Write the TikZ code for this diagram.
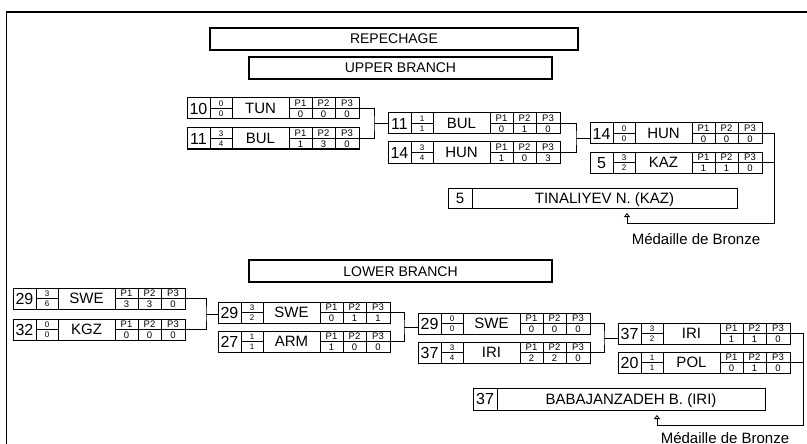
\documentclass[tikz,border=0pt]{standalone}
\usepackage{fontspec}
\setmainfont{Liberation Sans}
\usetikzlibrary{arrows.meta,calc}
\tikzset{
  rowbox/.style={draw, line width=1pt, minimum width=172pt, minimum height=21pt, inner sep=0pt, outer sep=0pt},
  namebox/.style={draw, line width=1pt, inner sep=0pt, outer sep=0pt},
  titlebox/.style={draw, line width=1.9pt, inner sep=0pt, outer sep=0pt},
  cell/.style={line width=0.8pt},
  conn/.style={line width=0.9pt},
  txtbig/.style={font=\fontsize{15}{15}\selectfont, inner sep=0pt, text height=10.7pt, text depth=0pt},
  txtnum/.style={font=\fontsize{16}{16}\selectfont, inner sep=0pt, text height=11.4pt, text depth=0pt},
  txttitle/.style={font=\fontsize{14}{14}\selectfont, inner sep=0pt, text height=10pt, text depth=0pt},
  txttiny/.style={font=\fontsize{8}{8}\selectfont, inner sep=0pt, text height=5.7pt, text depth=0pt},
  txtp/.style={font=\fontsize{9.5}{9.5}\selectfont, inner sep=0pt, text height=6.8pt, text depth=0pt},
  medal/.style={-{Triangle[open, length=4pt, width=6pt]}, line width=0.8pt},
}
% #1 id, #2 "x,y" top-left, #3 number, #4 upper score, #5 lower score, #6 country, #7-#9 P values
\newcommand\matchrow[9]{%
  \begin{scope}[shift={(#2)}]
    \node[rowbox, anchor=north west] (#1) at (0,0) {};
    \draw[cell] (23,0) -- (23,21) (45,0) -- (45,21) (102,0) -- (102,21)
      (125,0) -- (125,21) (148,0) -- (148,21)
      (23,10.5) -- (45,10.5) (102,10.5) -- (172,10.5);
    \node[txtnum] (#1-num) at (11.5,10.5) {#3};
    \node[txttiny] (#1-sa) at (34,5.2) {#4};
    \node[txttiny] (#1-sb) at (34,15.9) {#5};
    \node[txtbig] (#1-ctry) at (73.5,10.5) {#6};
    \node[txtp] (#1-l1) at (113.5,5.2) {P1};
    \node[txtp] (#1-l2) at (136.5,5.2) {P2};
    \node[txtp] (#1-l3) at (160,5.2) {P3};
    \node[txtp] (#1-v1) at (113.5,15.9) {#7};
    \node[txtp] (#1-v2) at (136.5,15.9) {#8};
    \node[txtp] (#1-v3) at (160,15.9) {#9};
  \end{scope}}
\begin{document}
\begin{tikzpicture}[x=1pt, y=-1pt]
\useasboundingbox (0,0) rectangle (807,444);
% frame
\draw[line width=1.5pt] (6.5,450) -- (6.5,12) -- (810,12);
% titles
\node[titlebox, minimum width=368pt, minimum height=22pt, anchor=north west] (rep) at (210,28) {};
\node[txttitle] (rept) at (rep.center) {REPECHAGE};
\node[titlebox, minimum width=303pt, minimum height=22pt, anchor=north west] (upb) at (249,57) {};
\node[txttitle] (upbt) at (upb.center) {UPPER BRANCH};
\node[titlebox, minimum width=303pt, minimum height=22pt, anchor=north west] (lob) at (249,260) {};
\node[txttitle] (lobt) at (lob.center) {LOWER BRANCH};

% upper branch
\matchrow{u1a}{187,98}{10}{0}{0}{TUN}{0}{0}{0}
\matchrow{u1b}{187,128}{11}{3}{4}{BUL}{1}{3}{0}
\matchrow{u2a}{388,113}{11}{1}{1}{BUL}{0}{1}{0}
\matchrow{u2b}{388,142}{14}{3}{4}{HUN}{1}{0}{3}
\matchrow{u3a}{590,123}{14}{0}{0}{HUN}{0}{0}{0}
\matchrow{u3b}{590,152}{5}{3}{2}{KAZ}{1}{1}{0}
\node[namebox, minimum width=289pt, minimum height=20pt, anchor=north west] (tin) at (448,188) {};
\draw[cell] (472,188) -- (472,208);
\node[txtbig] (tinn) at (460,198) {5};
\node[txtbig] (tint) at (604.5,198) {TINALIYEV N. (KAZ)};

\coordinate (j1) at ($(u1a.east)!0.5!(u1b.east)+(15,0)$);
\draw[conn] (u1a.east) -| (j1) |- (u1b.east);
\draw[conn] (j1) -- (j1 -| u2a.west);
\coordinate (j2) at ($(u2a.east)!0.5!(u2b.east)+(16,0)$);
\draw[conn] (u2a.east) -| (j2) |- (u2b.east);
\draw[conn] (j2) -- (j2 -| u3a.west);
\coordinate (f1) at (774,223);
\coordinate (a1) at (627,223);
\coordinate (a1t) at (627,213);
\draw[conn] (u3a.east) -| (f1) -- (a1);
\draw[conn] (u3b.east) -- (u3b.east -| f1);
\draw[medal] (a1) -- (a1t);
\node[txtbig] (med1) at (696,239) {Médaille de Bronze};

% lower branch
\matchrow{l1a}{13,288}{29}{3}{6}{SWE}{3}{3}{0}
\matchrow{l1b}{13,319}{32}{0}{0}{KGZ}{0}{0}{0}
\matchrow{l2a}{218,302}{29}{3}{2}{SWE}{0}{1}{1}
\matchrow{l2b}{218,331}{27}{1}{1}{ARM}{1}{0}{0}
\matchrow{l3a}{418,313}{29}{0}{0}{SWE}{0}{0}{0}
\matchrow{l3b}{418,342}{37}{3}{4}{IRI}{2}{2}{0}
\matchrow{l4a}{618,323}{37}{3}{2}{IRI}{1}{1}{0}
\matchrow{l4b}{618,352}{20}{1}{1}{POL}{0}{1}{0}
\node[namebox, minimum width=292pt, minimum height=22pt, anchor=north west] (bab) at (473,388) {};
\draw[cell] (497,388) -- (497,410);
\node[txtnum] (babn) at (485,399) {37};
\node[txtbig] (babt) at (631,399) {BABAJANZADEH B. (IRI)};

\coordinate (k1) at ($(l1a.east)!0.5!(l1b.east)+(21,0)$);
\draw[conn] (l1a.east) -| (k1) |- (l1b.east);
\draw[conn] (k1) -- (k1 -| l2a.west);
\coordinate (k2) at ($(l2a.east)!0.5!(l2b.east)+(14,0)$);
\draw[conn] (l2a.east) -| (k2) |- (l2b.east);
\draw[conn] (k2) -- (k2 -| l3a.west);
\coordinate (k3) at ($(l3a.east)!0.5!(l3b.east)+(14,0)$);
\draw[conn] (l3a.east) -| (k3) |- (l3b.east);
\draw[conn] (k3) -- (k3 -| l4a.west);
\coordinate (f2) at (803,425);
\coordinate (a2) at (657,425);
\coordinate (a2t) at (657,415);
\draw[conn] (l4a.east) -| (f2) -- (a2);
\draw[conn] (l4b.east) -- (l4b.east -| f2);
\draw[medal] (a2) -- (a2t);
\node[txtbig] (med2) at (725,438) {Médaille de Bronze};
\end{tikzpicture}
\end{document}
